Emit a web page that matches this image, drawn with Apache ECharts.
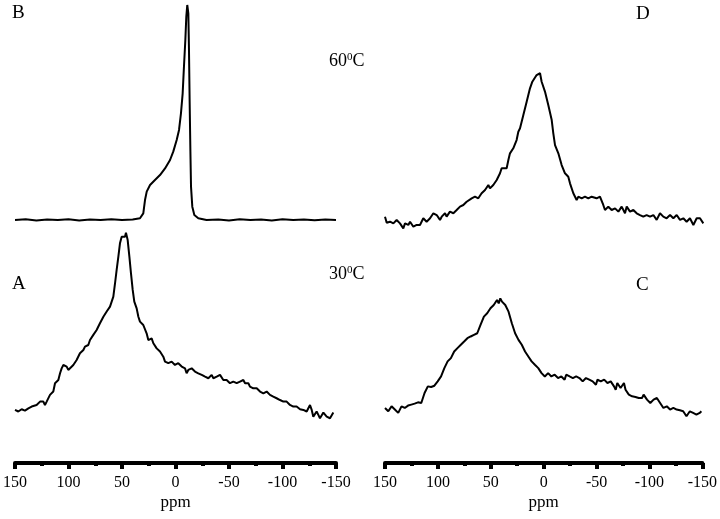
<!DOCTYPE html>
<html><head><meta charset="utf-8">
<script src="https://cdn.jsdelivr.net/npm/echarts@6/dist/echarts.min.js"></script>
<style>html,body{margin:0;padding:0;background:#fff}#c{width:720px;height:519px}</style>
</head><body><div id="c"></div>
<script>
// ppm tick labels
var ppmTicks = [150, 100, 50, 0, -50, -100, -150];

// Spectrum B (60 C, left top): [ppm, relative intensity]
var specB_ppm = [150,140,130,120,110,100,90,80,70,60,50,40,33.2,30.1,28.5,26.9,23.8,19.2,14.5,9.8,5.1,2.1,-1.1,-3.3,-5.1,-6.7,-7.9,-9.2,-10.1,-11.0,-12.0,-12.6,-13.2,-13.9,-14.5,-15.7,-17.6,-21.3,-29,-40,-50,-60,-70,-80,-90,-100,-110,-120,-130,-140,-150];
var specB_int = [0,0.3,-0.2,0.2,0,0.3,-0.2,0.2,0,0.3,0,0.2,0.8,3.1,9.3,13.2,16.3,18.6,20.9,24.0,27.9,31.8,37.2,41.9,49.6,58.9,71.3,83.7,94.6,100,96.1,79.1,55.8,32.6,15.5,6.2,2.3,0.8,0,0.2,-0.2,0.3,0,0.2,-0.2,0.3,0,0.2,-0.1,0.2,0];

// Spectrum A (30 C, left bottom)
var specA_ppm = [150.0,146.9,143.8,140.7,137.5,134.4,132.9,129.8,126.6,125.1,123.5,122.0,120.4,117.3,114.2,112.6,109.5,107.9,106.4,104.8,101.7,100.2,98.6,95.5,92.4,89.3,86.1,84.6,81.5,79.9,76.8,75.2,73.7,70.6,67.4,64.3,61.2,58.1,56.5,55.0,53.4,51.9,50.3,48.8,47.2,46.3,44.7,43.1,41.6,40.0,38.5,36.3,34.7,33.2,30.1,27.0,25.4,22.3,20.7,17.6,14.5,11.4,9.8,6.7,3.6,0.5,-2.6,-5.8,-8.9,-10.4,-12.0,-15.1,-18.2,-21.3,-24.5,-27.6,-30.7,-33.8,-35.4,-38.5,-41.6,-44.7,-47.8,-50.9,-54.0,-57.2,-60.3,-63.4,-65.0,-68.1,-69.6,-72.7,-75.9,-79.0,-82.1,-85.2,-88.3,-91.4,-94.5,-97.7,-100.8,-103.9,-107.0,-110.1,-113.2,-116.4,-119.5,-122.6,-125.7,-127.3,-128.8,-131.9,-133.5,-135.0,-138.2,-141.3,-144.4,-147.5];
var specA_int = [0,-0.9,0.4,-0.4,0.9,1.9,0.9,2.8,4.7,5.6,4.7,2.8,4.7,8.5,10.4,15.1,16.9,20.7,23.5,25.4,24.5,22.6,21.7,25.4,28.2,32.0,33.9,35.8,36.7,39.5,42.4,43.3,45.2,49.0,52.7,55.6,58.4,64.0,71.6,79.1,86.6,94.2,97.9,98.9,97.9,100.2,96.0,86.6,77.2,67.8,61.2,57.4,52.7,49.9,48.0,43.3,39.5,40.4,37.7,34.8,33.0,30.1,27.3,26.4,27.3,25.4,26.4,24.5,23.5,20.7,22.6,23.5,21.7,20.7,19.8,18.8,17.9,19.8,17.9,18.8,19.8,16.9,16.9,15.1,16.0,15.1,16.0,16.9,15.1,15.1,13.2,12.2,12.2,10.4,9.4,10.4,8.5,7.5,6.6,5.6,4.7,4.7,2.8,1.9,1.9,0.4,0,-0.9,2.8,0,-3.8,-0.9,-2.8,-4.7,-1.5,-3.8,-4.7,-1.5];

// Spectrum D (right top)
var specD_ppm = [150,148.4,145.3,142.2,139.1,136.0,132.9,131.3,128.2,126.6,123.5,120.4,117.3,114.2,111.1,107.9,104.8,101.7,98.6,97.0,93.9,92.4,89.3,86.1,83.0,79.9,76.8,73.7,72.1,69.0,65.9,62.8,59.7,56.5,53.4,51.9,48.8,45.6,44.1,42.5,41.0,39.4,36.3,34.7,33.2,30.1,27.0,25.4,23.8,20.7,17.6,14.5,12.3,10.7,8.3,6.7,5.1,3.6,0.5,-2.6,-5.8,-7.3,-8.9,-12.0,-15.1,-18.2,-21.3,-22.9,-26.0,-29.1,-30.7,-33.8,-36.9,-40.0,-43.1,-47.8,-50.9,-54.0,-55.6,-58.7,-61.8,-65.0,-68.1,-71.2,-74.3,-75.9,-79.0,-82.1,-85.2,-88.3,-91.4,-94.5,-97.7,-100.8,-103.9,-107.0,-110.1,-113.2,-116.4,-119.5,-122.6,-125.7,-128.8,-131.9,-135.0,-138.2,-141.3,-144.4,-147.5];
var specD_int = [3.6,-0.5,0.2,-0.9,1.4,-0.9,-4.3,-0.9,-2.0,0.2,-3.2,-2.0,-2.0,2.5,0.2,2.5,5.9,4.7,1.4,3.6,5.9,3.6,7.0,5.9,8.1,10.4,11.5,13.7,12.6,16.0,17.1,16.0,19.4,21.6,25.0,22.7,25.0,28.4,29.5,32.9,36.3,37.4,36.3,41.9,46.4,49.8,55.4,61.0,63.3,72.3,81.3,90.3,94.8,95.9,99.3,98.2,100.5,94.8,88.1,79.1,68.9,59.9,52.0,46.4,38.5,32.9,30.6,26.1,19.4,14.9,17.1,16.0,17.1,16.0,17.1,16.0,17.1,11.5,8.1,10.4,8.1,9.2,7.0,10.4,5.9,10.4,7.0,8.1,5.9,4.7,3.6,4.7,3.6,4.7,1.4,5.9,3.6,2.5,4.7,2.5,4.7,1.4,2.5,0.2,2.5,-2.0,2.5,2.5,-0.9];

// Spectrum C (right bottom)
var specC_ppm = [150.0,146.9,143.8,140.7,137.5,134.4,131.3,128.2,125.1,122.0,118.8,115.7,112.6,109.5,106.4,103.3,100.2,97.0,93.9,90.8,87.7,84.6,81.5,78.3,75.2,72.1,69.0,65.9,62.8,59.7,56.5,53.4,50.3,47.2,44.1,42.5,41.0,39.4,37.9,36.3,33.2,30.1,27.0,23.8,20.7,17.6,14.5,11.4,8.3,5.1,2.0,-1.1,-4.2,-7.3,-10.4,-13.6,-16.7,-19.8,-21.3,-24.5,-27.6,-30.7,-33.8,-36.9,-40.0,-43.1,-46.3,-49.4,-50.9,-54.0,-57.2,-60.3,-63.4,-66.5,-68.1,-69.6,-72.7,-75.9,-77.4,-80.5,-83.6,-86.8,-89.9,-93.0,-94.5,-97.7,-100.8,-103.9,-107.0,-110.1,-113.2,-116.4,-119.5,-122.6,-125.7,-128.8,-131.9,-135.0,-138.2,-141.3,-144.4,-147.5,-149.1];
var specC_int = [0,-3.1,1.5,-1.5,-4.6,1.5,0,2.2,3.1,4.0,5.2,4.6,13.8,20.0,19.4,20.6,24.6,29.2,36.9,43.1,46.2,52.3,55.4,58.5,61.5,64.6,66.2,67.7,69.2,76.9,84.6,87.7,92.3,95.4,100,96.9,101.5,98.5,100,95.4,89.2,78.5,69.2,63.1,58.5,52.3,47.7,43.1,40.0,36.9,32.3,29.2,32.3,29.2,30.8,27.7,29.2,26.2,30.8,29.2,27.7,29.2,27.7,24.6,27.7,26.2,24.6,21.5,26.2,24.6,26.2,23.1,24.6,20.0,16.9,23.1,18.5,23.1,16.9,12.3,10.8,10.2,9.2,9.2,12.3,7.7,4.6,7.7,9.2,4.6,0,1.5,-1.5,0,-1.5,-2.2,-3.1,-7.7,-3.1,-4.6,-6.2,-4.6,-3.1];

function pairs(xs, ys) { return xs.map(function (x, i) { return [x, ys[i]]; }); }

var FONT = 'Liberation Serif';
var xBase = { type: 'value', inverse: true, min: -150, max: 150, interval: 50 };
function xAxisVisible(gi) {
  return Object.assign({}, xBase, {
    gridIndex: gi, show: true, position: 'bottom',
    name: 'ppm', nameLocation: 'middle', nameGap: 31,
    nameTextStyle: { fontFamily: FONT, fontSize: 17, color: '#000' },
    axisLine: { show: true, onZero: false, lineStyle: { color: '#000', width: 4 } },
    axisTick: { show: true, length: 6, lineStyle: { color: '#000', width: 4 } },
    minorTick: { show: true, splitNumber: 2, length: 3, lineStyle: { color: '#000', width: 4 } },
    axisLabel: { show: true, margin: 12, fontFamily: FONT, fontSize: 16, color: '#000',
      customValues: ppmTicks },
    splitLine: { show: false }
  });
}
function xAxisHidden(gi) { return Object.assign({}, xBase, { gridIndex: gi, show: false }); }
function yAxis(gi, mn, mx) { return { type: 'value', gridIndex: gi, min: mn, max: mx, show: false }; }
function line(name, gi, data) {
  return { name: name, type: 'line', xAxisIndex: gi, yAxisIndex: gi, data: data,
    showSymbol: false, clip: false, silent: true,
    lineStyle: { color: '#000', width: 2 } };
}

var chart = echarts.init(document.getElementById('c'));
chart.setOption({
  animation: false,
  backgroundColor: '#fff',
  grid: [
    { left: 15, width: 321, top: 5, height: 215 },    // B
    { left: 15, width: 321, top: 233, height: 230 },  // A + axis
    { left: 385, width: 321, top: 74, height: 148 },  // D
    { left: 385, width: 321, top: 300, height: 163 }  // C + axis
  ],
  xAxis: [xAxisHidden(0), xAxisVisible(1), xAxisHidden(2), xAxisVisible(3)],
  yAxis: [yAxis(0, 0, 100), yAxis(1, -30, 100), yAxis(2, 0, 100), yAxis(3, -51, 100)],
  series: [
    line('B', 0, pairs(specB_ppm, specB_int)),
    line('A', 1, pairs(specA_ppm, specA_int)),
    line('D', 2, pairs(specD_ppm, specD_int)),
    line('C', 3, pairs(specC_ppm, specC_int))
  ],
  graphic: [
    { type: 'text', left: 12, top: 4, style: { text: 'B', font: '19px "Liberation Serif"', fill: '#000' } },
    { type: 'text', left: 12, top: 275, style: { text: 'A', font: '19px "Liberation Serif"', fill: '#000' } },
    { type: 'text', left: 636, top: 5, style: { text: 'D', font: '19px "Liberation Serif"', fill: '#000' } },
    { type: 'text', left: 636, top: 276, style: { text: 'C', font: '19px "Liberation Serif"', fill: '#000' } },
    { type: 'text', left: 329, top: 52, style: { text: '60{s|0}C', font: '18px "Liberation Serif"', fill: '#000',
      rich: { s: { fontSize: 11, fontFamily: FONT, verticalAlign: 'top', padding: [0, 0, 8, 0] } } } },
    { type: 'text', left: 329, top: 265, style: { text: '30{s|0}C', font: '18px "Liberation Serif"', fill: '#000',
      rich: { s: { fontSize: 11, fontFamily: FONT, verticalAlign: 'top', padding: [0, 0, 8, 0] } } } }
  ]
});
</script>
</body></html>
